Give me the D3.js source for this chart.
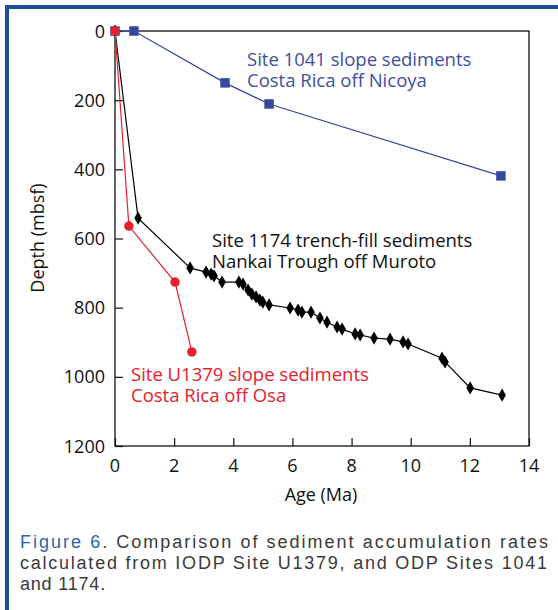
<!DOCTYPE html>
<html><head><meta charset="utf-8">
<script src="https://cdn.jsdelivr.net/npm/d3@7"></script>
<style>body{margin:0;background:#fff}svg{display:block}</style>
</head><body>
<svg id="c" width="558" height="610"></svg>
<script>
const xTicks = [0,2,4,6,8,10,12,14];
const yTicks = [0,200,400,600,800,1000,1200];
// Site 1041 (Costa Rica off Nicoya)
const site1041Age   = [0, 0.64, 3.72, 5.21, 13.05];
const site1041Depth = [0, 0, 150, 211, 419];
// Site U1379 (Costa Rica off Osa)
const siteU1379Age   = [0, 0.47, 2.03, 2.6];
const siteU1379Depth = [0, 564, 726, 928];
// Site 1174 (Nankai Trough off Muroto)
const site1174Age = [0,0.78,2.54,3.08,3.25,3.35,3.62,4.19,4.33,4.50,4.63,4.77,4.90,5.00,5.21,5.92,6.19,6.32,6.63,6.93,7.17,7.51,7.68,8.12,8.29,8.76,9.30,9.74,9.91,11.06,11.16,12.01,13.09];
const site1174Depth = [0,541,685,697,703,708,726,726,732,749,761,769,778,784,792,801,807,813,813,830,842,856,862,876,879,888,891,899,905,946,957,1032,1053];

const svg = d3.select("#c");
const x = d3.scaleLinear().domain([0,14]).range([115,529]);
const y = d3.scaleLinear().domain([0,1200]).range([31,446]);
const font = "'Open Sans', 'Noto Sans', sans-serif";

// frame
svg.append("rect").attr("x",5).attr("y",5).attr("width",553).attr("height",4).attr("fill","#1d4c9b");
svg.append("rect").attr("x",5).attr("y",5).attr("width",4).attr("height",605).attr("fill","#1d4c9b");

// plot box
svg.append("rect").attr("x",x(0)).attr("y",y(0)).attr("width",x(14)-x(0)).attr("height",y(1200)-y(0))
  .attr("fill","none").attr("stroke","#111").attr("stroke-width",1.3);

const yAxis = svg.append("g").attr("transform",`translate(${x(0)},0)`)
  .call(d3.axisRight(y).tickValues(yTicks).tickSize(8).tickFormat(""));
yAxis.select(".domain").remove();
yAxis.selectAll("line").attr("stroke","#111").attr("stroke-width",1.2);
svg.append("g").selectAll("text").data(yTicks).join("text")
  .attr("x",105).attr("y",d=>y(d)+6.5).attr("text-anchor","end")
  .attr("font-family",font).attr("font-size",18).attr("fill","#111").text(d=>d);

const xAxis = svg.append("g").attr("transform",`translate(0,${y(1200)})`)
  .call(d3.axisTop(x).tickValues(xTicks).tickSize(8).tickFormat(""));
xAxis.select(".domain").remove();
xAxis.selectAll("line").attr("stroke","#111").attr("stroke-width",1.2);
svg.append("g").selectAll("text").data(xTicks).join("text")
  .attr("x",d=>x(d)).attr("y",472).attr("text-anchor","middle")
  .attr("font-family",font).attr("font-size",18).attr("fill","#111").text(d=>d);

svg.append("text").attr("x",321).attr("y",501).attr("text-anchor","middle")
  .attr("font-family",font).attr("font-size",18).attr("fill","#111").text("Age (Ma)");
svg.append("text").attr("transform","translate(44,238) rotate(-90)").attr("text-anchor","middle")
  .attr("font-family",font).attr("font-size",18).attr("fill","#111").text("Depth (mbsf)");

const line = d3.line().x(d=>x(d[0])).y(d=>y(d[1]));
function series(ages, depths, color, shape, size){
  const pts = ages.map((a,i)=>[a,depths[i]]);
  svg.append("path").datum(pts).attr("d",line).attr("fill","none").attr("stroke",color).attr("stroke-width",1.2);
  svg.append("g").selectAll("path").data(pts).join("path")
    .attr("transform",d=>`translate(${x(d[0])},${y(d[1])})`)
    .attr("d",d3.symbol().type(shape).size(size)).attr("fill",color);
}
series(site1041Age, site1041Depth, "#3548a0", d3.symbolSquare, 90);
series(site1174Age, site1174Depth, "#000", d3.symbolDiamond, 50);
series(siteU1379Age, siteU1379Depth, "#e5212c", d3.symbolCircle, 70);

function label(lines, x0, y0, color){
  const t = svg.append("text").attr("x",x0).attr("y",y0)
    .attr("font-family",font).attr("font-size",18.5).attr("fill",color);
  lines.forEach((s,i)=>t.append("tspan").attr("x",x0).attr("dy",i?21:0).text(s));
}
label(["Site 1041 slope sediments","Costa Rica off Nicoya"],247,66,"#3d4fa3");
label(["Site 1174 trench-fill sediments","Nankai Trough off Muroto"],212,247,"#111");
label(["Site U1379 slope sediments","Costa Rica off Osa"],131,381,"#e5212c");

// caption
const capFont = "'Liberation Sans', Arial, sans-serif";
const c1 = svg.append("text").attr("x",20).attr("y",548).attr("font-family",capFont).attr("font-size",18)
  .attr("fill","#3a3a3a").attr("textLength",528).attr("lengthAdjust","spacing");
c1.append("tspan").attr("fill","#2a64ad").text("Figure 6");
c1.append("tspan").text(". Comparison of sediment accumulation rates");
svg.append("text").attr("x",20).attr("y",569).attr("font-family",capFont).attr("font-size",18)
  .attr("fill","#3a3a3a").attr("textLength",527).attr("lengthAdjust","spacing")
  .text("calculated from IODP Site U1379, and ODP Sites 1041");
svg.append("text").attr("x",20).attr("y",590).attr("font-family",capFont).attr("font-size",18)
  .attr("fill","#3a3a3a").attr("letter-spacing",0.8).text("and 1174.");
</script>
</body></html>
